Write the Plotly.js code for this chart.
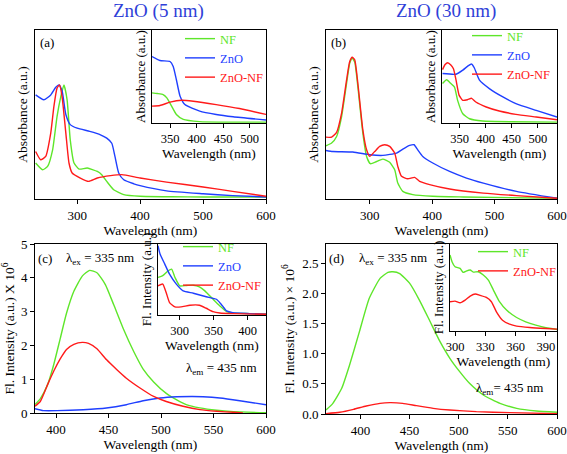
<!DOCTYPE html>
<html>
<head>
<meta charset="utf-8">
<script src="https://cdn.plot.ly/plotly-3.0.1.min.js"></script>
<style>html,body{margin:0;padding:0;background:#fff;}#chart{width:567px;height:454px;}</style>
</head>
<body>
<div id="chart"></div>
<script>
// ---------- Panel (a): ZnO (5 nm) absorbance (normalised a.u.) ----------
const aNF_x = [234,245,253,261,268,274,279,284,289,295,303,316,332,339,347,358,374,400,450,500,600];
const aNF_y = [0.213,0.173,0.193,0.291,0.488,0.606,0.675,0.587,0.35,0.213,0.177,0.183,0.163,0.144,0.104,0.055,0.026,0.016,0.013,0.012,0.012];
const aZnO_x = [234,247,258,266,271,276,282,289,300,320,337,347,355,360,366,374,390,400,442,500,547,600];
const aZnO_y = [0.616,0.587,0.616,0.661,0.675,0.64,0.50,0.44,0.419,0.40,0.38,0.36,0.33,0.252,0.154,0.114,0.09,0.079,0.048,0.031,0.02,0.012];
const aZnONF_x = [234,242,250,258,263,268,272,276,282,287,292,305,318,332,353,371,400,442,500,547,600];
const aZnONF_y = [0.281,0.232,0.252,0.39,0.547,0.656,0.675,0.606,0.39,0.213,0.154,0.124,0.104,0.124,0.138,0.144,0.124,0.10,0.071,0.045,0.016];
// inset (a)
const aiNF_x = [316,326,337,344,353,362,375,406,450,531];
const aiNF_y = [0.317,0.31,0.299,0.263,0.173,0.083,0.029,0.005,0.0,0.0];
const aiZnO_x = [316,331,350,356,362,369,378,406,437,469,531];
const aiZnO_y = [0.712,0.669,0.658,0.604,0.46,0.28,0.19,0.119,0.083,0.058,0.022];
const aiZnONF_x = [316,331,350,372,394,437,481,531];
const aiZnONF_y = [0.173,0.18,0.216,0.237,0.226,0.19,0.147,0.083];

// ---------- Panel (b): ZnO (30 nm) absorbance ----------
const bNF_x = [230,239,247,255,263,268,272,276,281,289,295,301,311,321,332,340,345,353,369,401,450,600];
const bNF_y = [0.315,0.331,0.37,0.488,0.685,0.803,0.833,0.81,0.665,0.39,0.252,0.209,0.222,0.236,0.217,0.173,0.094,0.045,0.026,0.016,0.012,0.004];
const bZnO_x = [230,241,273,300,321,343,353,364,371,377,385,401,428,455,482,535,600];
const bZnO_y = [0.287,0.281,0.278,0.262,0.258,0.272,0.295,0.317,0.321,0.291,0.252,0.213,0.163,0.124,0.094,0.045,0.004];
const bZnONF_x = [230,239,247,255,263,268,272,276,281,289,295,300,308,316,324,332,340,345,351,361,372,380,396,428,482,535,600];
const bZnONF_y = [0.366,0.366,0.394,0.508,0.705,0.813,0.839,0.823,0.685,0.409,0.291,0.252,0.281,0.311,0.321,0.311,0.272,0.193,0.134,0.12,0.128,0.104,0.085,0.059,0.035,0.02,0.004];
// inset (b)
const biNF_x = [317,325,333,340,346,356,369,394,450,537];
const biNF_y = [0.42,0.46,0.418,0.38,0.236,0.09,0.036,0.011,0.003,0.0];
const biZnO_x = [317,343,356,366,373,378,388,407,433,458,497,537];
const biZnO_y = [0.527,0.52,0.564,0.61,0.63,0.59,0.455,0.364,0.273,0.2,0.127,0.055];
const biZnONF_x = [317,322,327,333,338,343,349,356,365,373,381,401,426,458,497,537];
const biZnONF_y = [0.57,0.625,0.645,0.62,0.58,0.455,0.29,0.236,0.243,0.258,0.218,0.164,0.12,0.084,0.055,0.025];

// ---------- Panel (c): ZnO (5 nm) fluorescence (x 10^6) ----------
const cNF_x = [380,385,392,398,404,410,417,425,432,439,447,455,464,474,483,493,505,515,524,537,553,569,600];
const cNF_y = [0.25,0.42,0.84,1.45,2.2,2.95,3.6,4.05,4.22,4.15,3.8,3.2,2.5,1.82,1.3,0.92,0.58,0.39,0.25,0.15,0.08,0.04,0.01];
const cZnO_x = [380,388,401,426,448,467,483,499,515,530,540,556,575,600];
const cZnO_y = [0.128,0.07,0.069,0.098,0.148,0.246,0.364,0.443,0.48,0.49,0.48,0.443,0.364,0.246];
const cZnONF_x = [380,385,392,398,404,410,417,425,431,439,448,458,467,480,493,505,521,537,553,569,578];
const cZnONF_y = [0.2,0.34,0.84,1.25,1.6,1.88,2.03,2.09,2.06,1.9,1.58,1.28,1.03,0.74,0.49,0.34,0.2,0.1,0.05,0.02,0.005];
// inset (c)
const ciNF_x = [268,275,283,288,293,300,310,320,329,337,349,359,369,378,403,427];
const ciNF_y = [0.524,0.55,0.62,0.643,0.524,0.405,0.41,0.414,0.39,0.333,0.214,0.119,0.038,0.02,0.01,0.0];
const ciZnO_x = [268,271,278,285,295,305,320,339,354,361,369,378,403,427];
const ciZnO_y = [0.976,0.857,0.714,0.571,0.429,0.333,0.3,0.25,0.214,0.143,0.048,0.024,0.01,0.0];
const ciZnONF_x = [268,275,280,285,293,302,315,329,339,349,359,378,427];
const ciZnONF_y = [0.405,0.43,0.31,0.167,0.105,0.105,0.129,0.129,0.086,0.038,0.019,0.01,0.0];

// ---------- Panel (d): ZnO (30 nm) fluorescence (x 10^6) ----------
const dNF_x = [365,372,381,389,399,409,420,428,433,440,450,460,471,481,491,501,511,525,542,559,579,600];
const dNF_y = [0.066,0.177,0.426,0.813,1.366,1.919,2.25,2.35,2.36,2.33,2.17,1.89,1.53,1.2,0.924,0.702,0.509,0.315,0.177,0.094,0.05,0.028];
const dZnONF_x = [365,379,393,406,420,430,443,457,474,491,518,552,600];
const dZnONF_y = [0.006,0.028,0.077,0.133,0.177,0.188,0.177,0.138,0.094,0.066,0.039,0.022,0.006];
// inset (d)
const diNF_x = [295,297,300,305,308,311,315,318,323,328,333,338,344,351,361,370,380,390,401];
const diNF_y = [0.872,0.795,0.736,0.717,0.67,0.686,0.698,0.674,0.678,0.64,0.581,0.465,0.33,0.233,0.147,0.097,0.058,0.027,0.008];
const diZnONF_x = [295,300,305,310,315,320,325,331,336,341,347,354,361,374,390,401];
const diZnONF_y = [0.33,0.337,0.318,0.349,0.395,0.419,0.403,0.38,0.33,0.213,0.116,0.07,0.047,0.031,0.019,0.012];

// tick labels
const mainAbsTicks = [300,400,500,600];
const insetAbsTicks = [350,400,450,500];
const mainFlTicks = [400,450,500,550,600];
const insetCTicks = [300,350,400];
const insetDTicks = [300,330,360,390];
const cYTicks = [0,1,2,3,4,5];
const dYTicks = [0,0.5,1,1.5,2,2.5];

// ---------- styling ----------
const GREEN = '#5ee62a', BLUE = '#1f3fff', RED = '#ff1a1a';
const FONT = '"Liberation Serif", serif';
const PW = 567, PH = 454;
const px = v => v / PW;
const py = v => 1 - v / PH;

function tr(x, y, n, color, label, legend) {
  const t = {
    x: x, y: y, type: 'scatter', mode: 'lines',
    xaxis: 'x' + (n === 1 ? '' : n), yaxis: 'y' + (n === 1 ? '' : n),
    line: {color: color, width: 1.4, shape: 'spline', smoothing: 0.5},
    name: legend ? '<span style="color:' + color + '">' + label + '</span>' : label,
    showlegend: !!legend, hoverinfo: 'skip'
  };
  if (legend) t.legend = legend;
  return t;
}

const data = [
  tr(aNF_x, aNF_y, 1, GREEN, 'NF'),
  tr(aZnO_x, aZnO_y, 1, BLUE, 'ZnO'),
  tr(aZnONF_x, aZnONF_y, 1, RED, 'ZnO-NF'),
  tr(aiNF_x, aiNF_y, 2, GREEN, 'NF', 'legend'),
  tr(aiZnO_x, aiZnO_y, 2, BLUE, 'ZnO', 'legend'),
  tr(aiZnONF_x, aiZnONF_y, 2, RED, 'ZnO-NF', 'legend'),
  tr(bNF_x, bNF_y, 3, GREEN, 'NF'),
  tr(bZnO_x, bZnO_y, 3, BLUE, 'ZnO'),
  tr(bZnONF_x, bZnONF_y, 3, RED, 'ZnO-NF'),
  tr(biNF_x, biNF_y, 4, GREEN, 'NF', 'legend2'),
  tr(biZnO_x, biZnO_y, 4, BLUE, 'ZnO', 'legend2'),
  tr(biZnONF_x, biZnONF_y, 4, RED, 'ZnO-NF', 'legend2'),
  tr(cNF_x, cNF_y, 5, GREEN, 'NF'),
  tr(cZnO_x, cZnO_y, 5, BLUE, 'ZnO'),
  tr(cZnONF_x, cZnONF_y, 5, RED, 'ZnO-NF'),
  tr(ciNF_x, ciNF_y, 6, GREEN, 'NF', 'legend3'),
  tr(ciZnO_x, ciZnO_y, 6, BLUE, 'ZnO', 'legend3'),
  tr(ciZnONF_x, ciZnONF_y, 6, RED, 'ZnO-NF', 'legend3'),
  tr(dNF_x, dNF_y, 7, GREEN, 'NF'),
  tr(dZnONF_x, dZnONF_y, 7, RED, 'ZnO-NF'),
  tr(diNF_x, diNF_y, 8, GREEN, 'NF', 'legend4'),
  tr(diZnONF_x, diZnONF_y, 8, RED, 'ZnO-NF', 'legend4')
];

function ax(opts) {
  return Object.assign({
    showline: true, linecolor: '#000', linewidth: 1, mirror: true,
    showgrid: false, zeroline: false, ticks: 'outside', ticklen: 4,
    tickcolor: '#000', tickwidth: 1, fixedrange: true,
    tickfont: {family: FONT, size: 13, color: '#000'}
  }, opts);
}
function ttl(text, size, standoff) {
  return {text: text, font: {family: FONT, size: size, color: '#000'}, standoff: standoff};
}

const legendBase = {
  xanchor: 'left', yanchor: 'top', bgcolor: 'rgba(0,0,0,0)', borderwidth: 0,
  font: {family: FONT, size: 12.5, color: '#000'}, traceorder: 'normal'
};

const layout = {
  width: PW, height: PH,
  margin: {l: 0, r: 0, t: 0, b: 0},
  paper_bgcolor: '#fff', plot_bgcolor: '#fff',
  font: {family: FONT, color: '#000'},
  // panel (a)
  xaxis: ax({domain: [px(35), px(266)], range: [233, 600], tickvals: mainAbsTicks, anchor: 'y',
    title: ttl('Wavelength (nm)', 13.5, 3)}),
  yaxis: ax({domain: [py(199), py(30)], range: [0, 1], showticklabels: false, ticks: '', anchor: 'x',
    title: ttl('Absorbance (a.u.)', 13.5, 3)}),
  xaxis2: ax({domain: [px(152), px(266)], range: [316, 531], tickvals: insetAbsTicks, anchor: 'y2',
    tickfont: {family: FONT, size: 12.5, color: '#000'}, title: ttl('Wavelength (nm)', 13.5, 2)}),
  yaxis2: ax({domain: [py(123), py(30)], range: [-0.01, 1], showticklabels: false, ticks: '', anchor: 'x2',
    title: ttl('Absorbance (a.u.)', 13, 2)}),
  // panel (b)
  xaxis3: ax({domain: [px(326), px(557)], range: [230, 600], tickvals: mainAbsTicks, anchor: 'y3',
    title: ttl('Wavelength (nm)', 13.5, 3)}),
  yaxis3: ax({domain: [py(199), py(30)], range: [0, 1], showticklabels: false, ticks: '', anchor: 'x3',
    title: ttl('Absorbance (a.u.)', 13.5, 3)}),
  xaxis4: ax({domain: [px(442), px(557)], range: [316, 537], tickvals: insetAbsTicks, anchor: 'y4',
    tickfont: {family: FONT, size: 12.5, color: '#000'}, title: ttl('Wavelength (nm)', 13.5, 2)}),
  yaxis4: ax({domain: [py(123), py(30)], range: [-0.01, 1], showticklabels: false, ticks: '', anchor: 'x4',
    title: ttl('Absorbance (a.u.)', 13, 2)}),
  // panel (c)
  xaxis5: ax({domain: [px(35), px(266)], range: [380, 600], tickvals: mainFlTicks, anchor: 'y5',
    title: ttl('Wavelength (nm)', 13.5, 3)}),
  yaxis5: ax({domain: [py(413), py(244)], range: [0, 5], tickvals: cYTicks, anchor: 'x5',
    title: ttl('Fl. Intensity (a.u.) X 10<sup>6</sup>', 13.5, 4)}),
  xaxis6: ax({domain: [px(158), px(266)], range: [268, 427], tickvals: insetCTicks, anchor: 'y6',
    tickfont: {family: FONT, size: 12.5, color: '#000'}, title: ttl('Wavelength (nm)', 13.5, 2)}),
  yaxis6: ax({domain: [py(315), py(244)], range: [-0.01, 1], showticklabels: false, ticks: '', anchor: 'x6',
    title: ttl('Fl. Intensity (a.u.)', 13, 2)}),
  // panel (d)
  xaxis7: ax({domain: [px(326), px(557)], range: [365, 600], tickvals: mainFlTicks, anchor: 'y7',
    title: ttl('Wavelength (nm)', 13.5, 3)}),
  yaxis7: ax({domain: [py(414), py(244)], range: [0, 2.82], tickvals: dYTicks, tickformat: '.1f', anchor: 'x7',
    title: ttl('Fl. Intensity (a.u.) × 10<sup>6</sup>', 13.5, 4)}),
  xaxis8: ax({domain: [px(450), px(557)], range: [295, 401], tickvals: insetDTicks, anchor: 'y8',
    tickfont: {family: FONT, size: 12.5, color: '#000'}, title: ttl('Wavelength (nm)', 13.5, 2)}),
  yaxis8: ax({domain: [py(331), py(244)], range: [-0.01, 1], showticklabels: false, ticks: '', anchor: 'x8',
    title: ttl('Fl. Intensity (a.u.)', 13, 2)}),
  legend: Object.assign({}, legendBase, {x: px(180), y: py(24)}),
  legend2: Object.assign({}, legendBase, {x: px(467), y: py(21)}),
  legend3: Object.assign({}, legendBase, {x: px(178), y: py(232)}),
  legend4: Object.assign({}, legendBase, {x: px(473), y: py(237)}),
  annotations: [
    {text: 'ZnO (5 nm)', x: px(158), y: py(11), font: {family: FONT, size: 19, color: '#2f3fd8'}},
    {text: 'ZnO (30 nm)', x: px(446), y: py(11), font: {family: FONT, size: 19, color: '#2f3fd8'}},
    {text: '(a)', x: px(47), y: py(42), font: {family: FONT, size: 13, color: '#000'}},
    {text: '(b)', x: px(338), y: py(43), font: {family: FONT, size: 13, color: '#000'}},
    {text: '(c)', x: px(45), y: py(258), font: {family: FONT, size: 13, color: '#000'}},
    {text: '(d)', x: px(336), y: py(258), font: {family: FONT, size: 13, color: '#000'}},
    {text: 'λ<sub>ex</sub> = 335 nm', x: px(100), y: py(258), font: {family: FONT, size: 13, color: '#000'}},
    {text: 'λ<sub>em</sub> = 435 nm', x: px(221), y: py(368), font: {family: FONT, size: 13, color: '#000'}},
    {text: 'λ<sub>ex</sub> = 335 nm', x: px(393), y: py(258), font: {family: FONT, size: 13, color: '#000'}},
    {text: 'λ<sub>em</sub>= 435 nm', x: px(509), y: py(388), font: {family: FONT, size: 13, color: '#000'}}
  ].map(a => Object.assign({xref: 'paper', yref: 'paper', showarrow: false, xanchor: 'center', yanchor: 'middle'}, a))
};

Plotly.newPlot('chart', data, layout, {staticPlot: true, displayModeBar: false});
</script>
</body>
</html>
